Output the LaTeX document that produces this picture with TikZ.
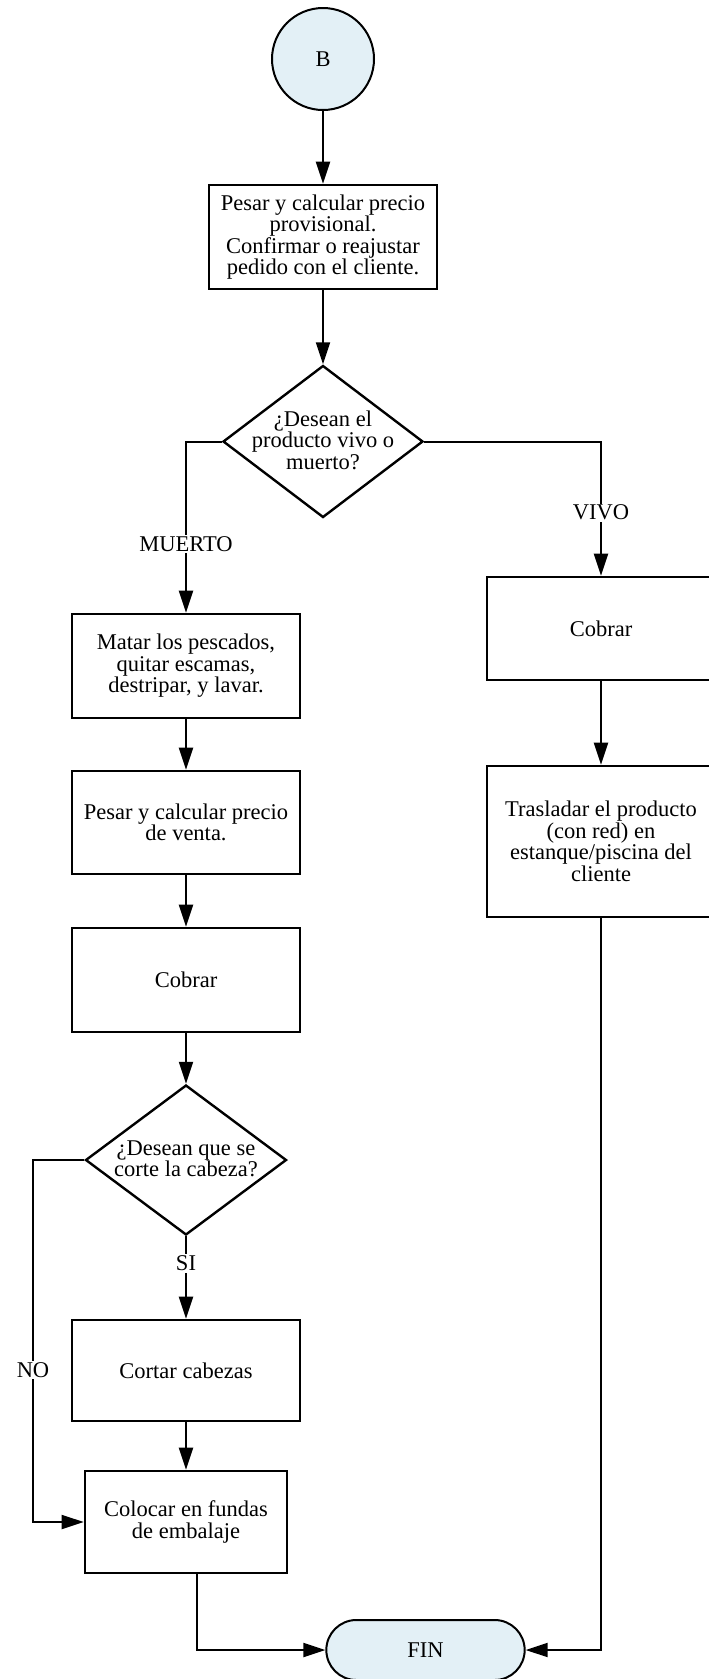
\documentclass[tikz,border=0pt]{standalone}
\usepackage{fontspec}
\setmainfont{Liberation Serif}
\usetikzlibrary{arrows.meta,shapes.geometric,shapes.misc}
\definecolor{termfill}{RGB}{227,240,246}

\begin{document}
\begin{tikzpicture}[x=1pt,y=-1pt,
	font=\fontsize{22.5}{21.5}\selectfont,
	>={Triangle[length=22pt,width=14pt]},
	flow/.style={line width=2pt},
	proc/.style={draw,line width=2.6pt,minimum width=228pt,minimum height=104pt,align=center,inner sep=0pt},
	decision/.style={draw,diamond,line width=2.4pt,minimum width=200pt,minimum height=152pt,inner sep=0pt},
	terminal/.style={draw,line width=2pt,fill=termfill},
	tag/.style={fill=white,inner sep=1.5pt}]

\useasboundingbox (0,0) rectangle (709,1679);

\node (start)	at (323,59)	[terminal,circle,minimum size=102pt] {B};
\node (pesar1)	at (323,237)	[proc] {Pesar y calcular precio\\provisional.\\Confirmar o reajustar\\pedido con el cliente.};
\node (pregunta1)	at (323,441.5)	[decision] {};
\node (pregunta1_txt)	at (323,440)	[align=center] {¿Desean el\\producto vivo o\\muerto?};

% rama muerto
\node (matar)	at (186,666)	[proc] {Matar los pescados,\\quitar escamas,\\destripar, y lavar.};
\node (pesar2)	at (186,822.5)	[proc,minimum height=103pt] {Pesar y calcular precio\\de venta.};
\node (cobrar1)	at (186,980)	[proc] {Cobrar};
\node (pregunta2)	at (186,1160)	[decision,minimum width=201pt,minimum height=150pt] {};
\node (pregunta2_txt)	at (186,1159)	[align=center] {¿Desean que se\\corte la cabeza?};
\node (cortar)	at (186,1370.5)	[proc,minimum height=101pt] {Cortar cabezas};
\node (colocar)	at (186,1522)	[proc,minimum width=202pt,minimum height=102pt] {Colocar en fundas\\de embalaje};

% rama vivo
\node (cobrar2)	at (601,628.5)	[proc,minimum height=103pt] {Cobrar};
\node (trasladar)	at (601,841.5)	[proc,minimum height=151pt] {Trasladar el producto\\(con red) en\\estanque/piscina del\\cliente};

\node (fin)	at (425.5,1650)	[terminal,rounded rectangle,minimum width=205pt,minimum height=60pt] {FIN};
\coordinate (no_turn)	at (33,1160);

\draw [flow,->] (start) -- (pesar1);
\draw [flow,->] (pesar1) -- (pregunta1);
\draw [flow,->] (pregunta1.west) -| node[tag,pos=0.8]{MUERTO} (matar.north);
\draw [flow,->] (pregunta1.east) -| node[tag,pos=0.765]{VIVO} (cobrar2.north);
\draw [flow,->] (matar) -- (pesar2);
\draw [flow,->] (pesar2) -- (cobrar1);
\draw [flow,->] (cobrar1) -- (pregunta2);
\draw [flow,->] (pregunta2) -- node[tag,pos=0.33]{SI} (cortar);
\draw [flow,->] (pregunta2.west) -- (no_turn) |- node[tag,pos=0.29]{NO} (colocar.west);
\draw [flow,->] (cortar) -- (colocar);
\draw [flow,->] ([xshift=11pt]colocar.south) |- (fin.west);
\draw [flow,->] (cobrar2) -- (trasladar);
\draw [flow,->] (trasladar.south) |- (fin.east);

\end{tikzpicture}
\end{document}
